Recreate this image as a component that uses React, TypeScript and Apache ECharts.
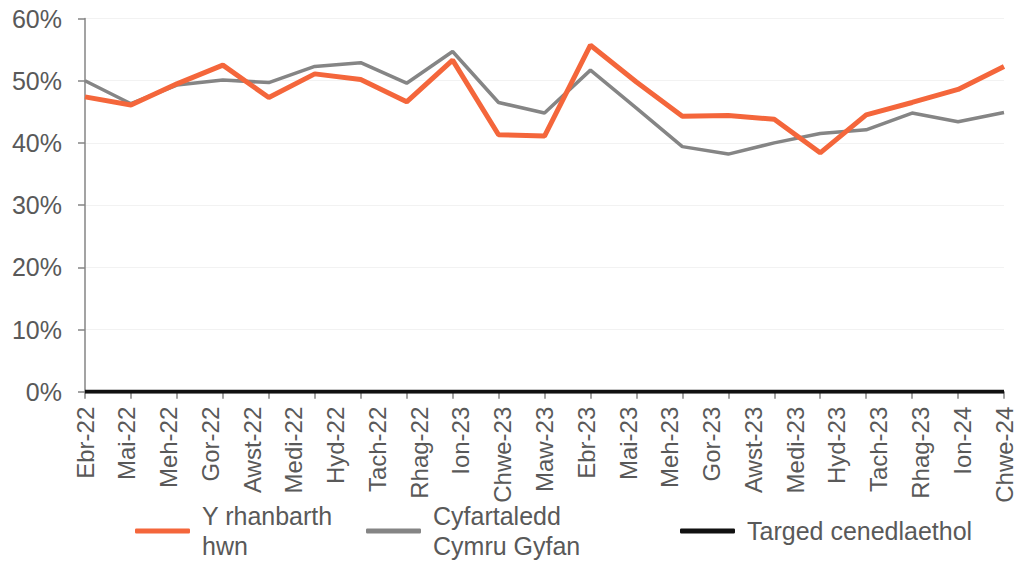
import React, { useEffect, useRef } from "react";
import * as echarts from "echarts";

const monthLabels = [
  "Ebr-22", "Mai-22", "Meh-22", "Gor-22", "Awst-22", "Medi-22", "Hyd-22", "Tach-22",
  "Rhag-22", "Ion-23", "Chwe-23", "Maw-23", "Ebr-23", "Mai-23", "Meh-23", "Gor-23",
  "Awst-23", "Medi-23", "Hyd-23", "Tach-23", "Rhag-23", "Ion-24", "Chwe-24",
];

const regionValues = [
  47.4, 46.1, 49.5, 52.5, 47.3, 51.1, 50.2, 46.6, 53.3, 41.3, 41.1,
  55.7, 49.8, 44.3, 44.4, 43.8, 38.4, 44.5, 46.5, 48.6, 52.3,
];

const walesValues = [
  50.0, 46.3, 49.3, 50.1, 49.7, 52.3, 52.9, 49.6, 54.7, 46.5, 44.8,
  51.7, 45.6, 39.4, 38.2, 40.0, 41.5, 42.1, 44.8, 43.4, 44.9,
];

const targetValues = [
  0, 0, 0, 0, 0, 0, 0, 0, 0, 0, 0,
  0, 0, 0, 0, 0, 0, 0, 0, 0, 0,
];

const yTicks = [0, 10, 20, 30, 40, 50, 60];

const seriesNames = ["Y rhanbarth\nhwn", "Cyfartaledd\nCymru Gyfan", "Targed cenedlaethol"];

const RED = "#f4663b";
const GREY = "#858585";
const BLACK = "#111111";
const TEXT = "#595959";
const FONT = "'Liberation Sans', Arial, sans-serif";

const toPoints = (vals: number[]) => vals.map((v, i) => [i, v]);

export default function App() {
  const ref = useRef<HTMLDivElement>(null);

  useEffect(() => {
    if (!ref.current) return;
    const chart = echarts.init(ref.current, undefined, { renderer: "svg" });
    const legendBase = {
      orient: "horizontal" as const,
      padding: 0,
      itemWidth: 55,
      itemHeight: 5,
      icon: "roundRect",
      selectedMode: false,
      textStyle: {
        color: TEXT,
        fontSize: 25,
        fontFamily: FONT,
        lineHeight: 30,
        padding: [0, 0, 0, 7],
      },
    };
    chart.setOption({
      animation: false,
      backgroundColor: "#ffffff",
      grid: { left: 85, right: 11, top: 18.5, bottom: 175.3, containLabel: false },
      legend: [
        { ...legendBase, data: [seriesNames[0]], left: 135, top: 501 },
        { ...legendBase, data: [seriesNames[1]], left: 366, top: 501 },
        { ...legendBase, data: [seriesNames[2]], left: 680, top: 516 },
      ],
      xAxis: [
        {
          type: "value",
          min: 0,
          max: regionValues.length - 1,
          interval: 1,
          axisLine: { show: true, lineStyle: { color: GREY, width: 1.5 } },
          axisTick: { show: true, length: 7, lineStyle: { color: GREY, width: 1.5 } },
          axisLabel: { show: false },
          splitLine: { show: false },
        },
        {
          type: "category",
          data: monthLabels,
          boundaryGap: false,
          position: "bottom",
          axisLine: { show: false },
          axisTick: { show: false },
          splitLine: { show: false },
          axisLabel: {
            rotate: 90,
            interval: 0,
            margin: 15,
            color: TEXT,
            fontSize: 24,
            fontFamily: FONT,
          },
        },
      ],
      yAxis: {
        type: "value",
        min: yTicks[0],
        max: yTicks[yTicks.length - 1],
        interval: 10,
        axisLine: { show: true, lineStyle: { color: GREY, width: 1.5 } },
        axisTick: { show: true, length: 7, lineStyle: { color: GREY, width: 1.5 } },
        axisLabel: {
          formatter: "{value}%",
          margin: 23,
          color: TEXT,
          fontSize: 25,
          fontFamily: FONT,
        },
        splitLine: { show: true, lineStyle: { color: "#f2f2f2", width: 1 } },
      },
      series: [
        {
          name: seriesNames[1],
          type: "line",
          xAxisIndex: 0,
          data: toPoints(walesValues),
          showSymbol: false,
          lineStyle: { color: GREY, width: 3.5 },
          itemStyle: { color: GREY },
          z: 3,
        },
        {
          name: seriesNames[0],
          type: "line",
          xAxisIndex: 0,
          data: toPoints(regionValues),
          showSymbol: false,
          lineStyle: { color: RED, width: 5 },
          itemStyle: { color: RED },
          z: 4,
        },
        {
          name: seriesNames[2],
          type: "line",
          xAxisIndex: 0,
          data: toPoints(targetValues),
          showSymbol: false,
          lineStyle: { color: BLACK, width: 4 },
          itemStyle: { color: BLACK },
          z: 5,
        },
      ],
    });
    return () => chart.dispose();
  }, []);

  return <div ref={ref} style={{ width: 1016, height: 567, position: "absolute", left: 0, top: 0 }} />;
}
